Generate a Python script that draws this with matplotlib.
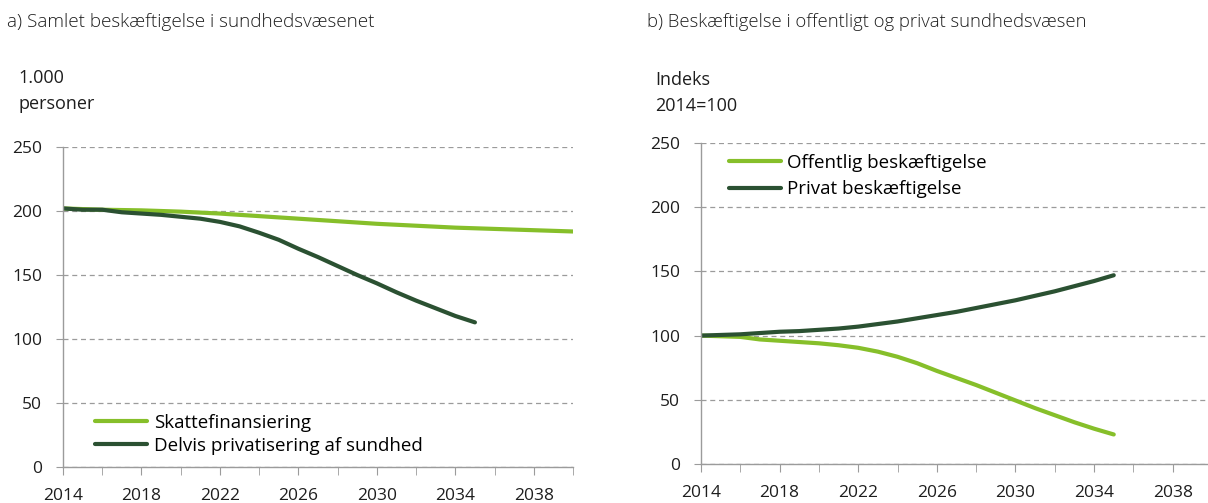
import matplotlib
matplotlib.use("Agg")
import matplotlib.pyplot as plt
from matplotlib.ticker import MultipleLocator

plt.rcParams['font.family'] = ['Open Sans', 'DejaVu Sans']

# Panel a data
years_a1 = [2014, 2016, 2018, 2020, 2022, 2024, 2026, 2028, 2030, 2032, 2034, 2036, 2038, 2040]
skat = [202, 201, 200.5, 199.5, 198, 196, 194, 192, 190, 188.5, 187, 186, 185, 184]
years_a2 = [2014, 2015, 2016, 2017, 2018, 2019, 2020, 2021, 2022, 2023, 2024, 2025, 2026, 2027, 2028, 2029, 2030, 2031, 2032, 2033, 2034, 2035]
delvis = [202, 201, 201, 199, 198, 197, 195.5, 194, 191.5, 188, 183, 177.5, 170.5, 164, 157, 150, 143.5, 136.5, 130, 124, 118, 113]

# Panel b data
years_b = [2014, 2015, 2016, 2017, 2018, 2019, 2020, 2021, 2022, 2023, 2024, 2025, 2026, 2027, 2028, 2029, 2030, 2031, 2032, 2033, 2034, 2035]
offentlig = [100, 99.5, 99, 97, 96, 95, 94, 92.5, 90.5, 87.5, 83.5, 78.5, 72.5, 67, 61.5, 55.5, 49.5, 43.5, 38, 32.5, 27.5, 23]
privat = [100, 100.5, 101, 102, 103, 103.5, 104.5, 105.5, 107, 109, 111, 113.5, 116, 118.5, 121.5, 124.5, 127.5, 131, 134.5, 138.5, 142.5, 147]

xticks_major = [2014, 2018, 2022, 2026, 2030, 2034, 2038]

LIGHT = '#86BF2A'
DARK = '#2B5132'
GRID = '#9B9B9B'
TXT = '#1E1E1E'
FS = 12.5

fig = plt.figure(figsize=(12.08, 5.03), dpi=100)

def style(ax):
    ax.set_xlim(2014, 2040)
    ax.set_ylim(0, 250)
    ax.set_yticks([0, 50, 100, 150, 200, 250])
    ax.set_xticks(xticks_major)
    ax.xaxis.set_minor_locator(MultipleLocator(2))
    for s in ['top', 'right']:
        ax.spines[s].set_visible(False)
    for s in ['left', 'bottom']:
        ax.spines[s].set_color(GRID)
        ax.spines[s].set_linewidth(1.0)
    ax.grid(axis='y', color=GRID, linestyle=(0, (4, 3)), linewidth=0.9)
    ax.set_axisbelow(True)
    ax.tick_params(axis='both', which='both', color=GRID, labelsize=FS, labelcolor=TXT, direction='out')
    ax.tick_params(axis='x', which='both', length=6, pad=9)
    ax.tick_params(axis='y', length=5, pad=10)

ax1 = fig.add_axes([63/1208, 1-467/503, 510/1208, 320/503])
style(ax1)
ax1.plot(years_a1, skat, color=LIGHT, lw=3, label='Skattefinansiering', solid_capstyle='round')
ax1.plot(years_a2, delvis, color=DARK, lw=3, label='Delvis privatisering af sundhed', solid_capstyle='round')
ax1.legend(loc='lower left', bbox_to_anchor=(0.049, 0.015), frameon=False, fontsize=13.5,
           handlelength=2.75, handletextpad=0.37, labelspacing=0.25, borderaxespad=0.0)
fig.text(7/1208, 1-22/503, 'a) Samlet beskæftigelse i sundhedsvæsenet', fontsize=13.6,
         fontweight='light', color=TXT, va='center')
fig.text(18/1208, 1-78/503, '1.000', fontsize=13, color=TXT, va='center')
fig.text(18/1208, 1-104/503, 'personer', fontsize=13, color=TXT, va='center')

ax2 = fig.add_axes([701/1208, 1-464/503, 511/1208, 321/503])
style(ax2)
ax2.plot(years_b, offentlig, color=LIGHT, lw=3, label='Offentlig beskæftigelse', solid_capstyle='round')
ax2.plot(years_b, privat, color=DARK, lw=3, label='Privat beskæftigelse', solid_capstyle='round')
ax2.legend(loc='upper left', bbox_to_anchor=(0.04, 0.99), frameon=False, fontsize=13.5,
           handlelength=2.75, handletextpad=0.37, labelspacing=0.45, borderaxespad=0.0)
fig.text(647/1208, 1-22/503, 'b) Beskæftigelse i offentligt og privat sundhedsvæsen', fontsize=13.3,
         fontweight='light', color=TXT, va='center')
fig.text(655/1208, 1-80/503, 'Indeks', fontsize=13, color=TXT, va='center')
fig.text(655/1208, 1-106/503, '2014=100', fontsize=13, color=TXT, va='center')

fig.savefig('out.png', dpi=100)
